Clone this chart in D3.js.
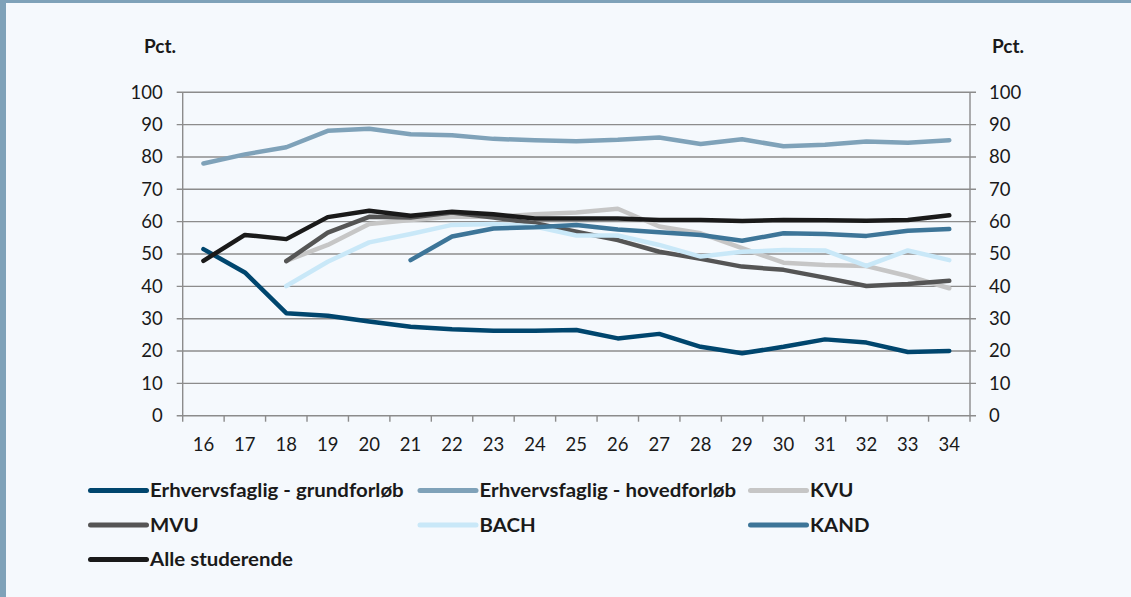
<!DOCTYPE html>
<html>
<head>
<meta charset="utf-8">
<script src="https://cdn.jsdelivr.net/npm/d3@7"></script>
<style>
  body { margin: 0; background: #f5f9fd; }
  svg text { font-family: Lato, "Open Sans", sans-serif; fill: #1a1a1a; }
</style>
</head>
<body>
<script>
// ages on the x axis
const ages = [16, 17, 18, 19, 20, 21, 22, 23, 24, 25, 26, 27, 28, 29, 30, 31, 32, 33, 34];
const yTicks = [0, 10, 20, 30, 40, 50, 60, 70, 80, 90, 100];

// series values, pct. (null = no data)
const grundforloeb = [51.5, 44.3, 31.7, 30.9, 29.1, 27.5, 26.7, 26.3, 26.3, 26.5, 23.9, 25.3, 21.3, 19.3, 21.3, 23.6, 22.6, 19.7, 20.0];
const hovedforloeb = [78.0, 80.8, 83.0, 88.1, 88.7, 87.0, 86.7, 85.6, 85.2, 84.9, 85.3, 86.0, 84.0, 85.5, 83.3, 83.8, 84.8, 84.4, 85.2];
const kvu = [null, null, 47.9, 52.8, 59.3, 60.5, 61.5, 61.5, 62.3, 62.8, 64.0, 58.5, 56.4, 51.8, 47.3, 46.6, 46.3, 43.2, 39.4];
const mvu = [null, null, 47.8, 56.6, 61.5, 61.3, 62.8, 61.3, 59.5, 56.9, 54.3, 50.7, 48.5, 46.1, 45.1, 42.7, 40.1, 40.7, 41.7];
const bach = [null, null, 40.1, 47.6, 53.6, 56.2, 59.0, 59.3, 58.5, 55.7, 55.7, 52.8, 49.2, 50.7, 51.2, 51.1, 46.3, 51.1, 48.1];
const kand = [null, null, null, null, null, 48.1, 55.4, 57.9, 58.3, 59.0, 57.6, 56.7, 55.9, 54.1, 56.4, 56.2, 55.6, 57.2, 57.7];
const alle = [47.9, 55.9, 54.6, 61.4, 63.4, 61.8, 63.1, 62.3, 61.0, 61.0, 61.0, 60.5, 60.5, 60.2, 60.5, 60.4, 60.3, 60.5, 62.0];

const seriesNames = ["Erhvervsfaglig - grundforløb", "Erhvervsfaglig - hovedforløb", "KVU", "MVU", "BACH", "KAND", "Alle studerende"];
const seriesValues = [grundforloeb, hovedforloeb, kvu, mvu, bach, kand, alle];
const seriesColors = ["#00466e", "#7fa2b9", "#c6c6c6", "#555555", "#c9e8f8", "#3d7598", "#1a1a1a"];

const width = 1131, height = 597;
const plotLeft = 182.7, plotRight = 970, plotTop = 92.3, plotBottom = 415.7;

const svg = d3.select("body").append("svg")
  .attr("width", width)
  .attr("height", height);

svg.append("rect").attr("width", width).attr("height", height).attr("fill", "#f5f9fd");
// frame
svg.append("rect").attr("x", 0).attr("y", 0).attr("width", width).attr("height", 3).attr("fill", "#7fa2b9");
svg.append("rect").attr("x", 0).attr("y", 0).attr("width", 6).attr("height", height).attr("fill", "#7fa2b9");

const x = d3.scaleBand().domain(ages).range([plotLeft, plotRight]);
const y = d3.scaleLinear().domain([0, 100]).range([plotBottom, plotTop]);

const gridColor = "#8c8c8c";

// gridlines
svg.append("g")
  .selectAll("line")
  .data(yTicks)
  .enter().append("line")
  .attr("x1", plotLeft - 6)
  .attr("x2", plotRight + 6)
  .attr("y1", d => y(d))
  .attr("y2", d => y(d))
  .attr("stroke", gridColor)
  .attr("stroke-width", 1.4);

function styleAxis(g){
  g.select(".domain").remove();
  g.selectAll(".tick line").remove();
  g.selectAll("text").style("font-size", "18.5px").attr("fill", "#1a1a1a");
}

svg.append("g")
  .attr("transform", `translate(${plotLeft},0)`)
  .call(d3.axisLeft(y).tickValues(yTicks).tickSize(6).tickPadding(14))
  .call(styleAxis);

svg.append("g")
  .attr("transform", `translate(${plotRight},0)`)
  .call(d3.axisRight(y).tickValues(yTicks).tickSize(6).tickPadding(13))
  .call(styleAxis);

// vertical axis lines
[plotLeft, plotRight].forEach(px => {
  svg.append("line")
    .attr("x1", px).attr("x2", px)
    .attr("y1", plotTop).attr("y2", plotBottom)
    .attr("stroke", gridColor).attr("stroke-width", 1.4);
});

// x ticks at band edges
const edges = ages.map(a => x(a)).concat([plotRight]);
svg.append("g")
  .selectAll("line")
  .data(edges)
  .enter().append("line")
  .attr("x1", d => d).attr("x2", d => d)
  .attr("y1", plotBottom).attr("y2", plotBottom + 6)
  .attr("stroke", gridColor).attr("stroke-width", 1.4);

const xAxis = svg.append("g")
  .attr("transform", `translate(0,${plotBottom})`)
  .call(d3.axisBottom(x).tickSize(0))
  .call(styleAxis);
xAxis.selectAll("text").attr("y", 35).attr("dy", null);

// Pct. labels
svg.append("text").attr("x", 160).attr("y", 53).attr("text-anchor", "middle")
  .style("font-size", "19px").style("font-weight", "bold").text("Pct.");
svg.append("text").attr("x", 1008).attr("y", 53).attr("text-anchor", "middle")
  .style("font-size", "19px").style("font-weight", "bold").text("Pct.");

// lines
const line = d3.line()
  .defined(d => d.v !== null)
  .x(d => x(d.age) + x.bandwidth() / 2)
  .y(d => y(d.v));

seriesValues.forEach((vals, i) => {
  const pts = ages.map((a, j) => ({age: a, v: vals[j]}));
  svg.append("path")
    .datum(pts)
    .attr("d", line)
    .attr("fill", "none")
    .attr("stroke", seriesColors[i])
    .attr("stroke-width", 4.5)
    .attr("stroke-linejoin", "round")
    .attr("stroke-linecap", "round");
});

// legend
const legendCols = [90.5, 420, 750.5];
const legendRows = [490.5, 525, 559.5];
const legendTexts = [];
seriesNames.forEach((name, i) => {
  const lx = legendCols[i % 3];
  const ly = legendRows[Math.floor(i / 3)];
  const g = svg.append("g").attr("class", "legend");
  g.append("line")
    .attr("x1", lx).attr("x2", lx + 56)
    .attr("y1", ly).attr("y2", ly)
    .attr("stroke", seriesColors[i])
    .attr("stroke-width", 5)
    .attr("stroke-linecap", "round");
  const t = g.append("text")
    .attr("x", lx + 59.5)
    .attr("y", ly + 6.7)
    .style("font-size", "19.5px")
    .style("font-weight", "bold")
    .text(name);
  legendTexts.push(t);
});
// the original legend font runs a bit wider than Lato
const stretch = 143 / legendTexts[6].node().getComputedTextLength();
legendTexts.forEach(t => {
  t.attr("textLength", t.node().getComputedTextLength() * stretch)
   .attr("lengthAdjust", "spacingAndGlyphs");
});
</script>
</body>
</html>
